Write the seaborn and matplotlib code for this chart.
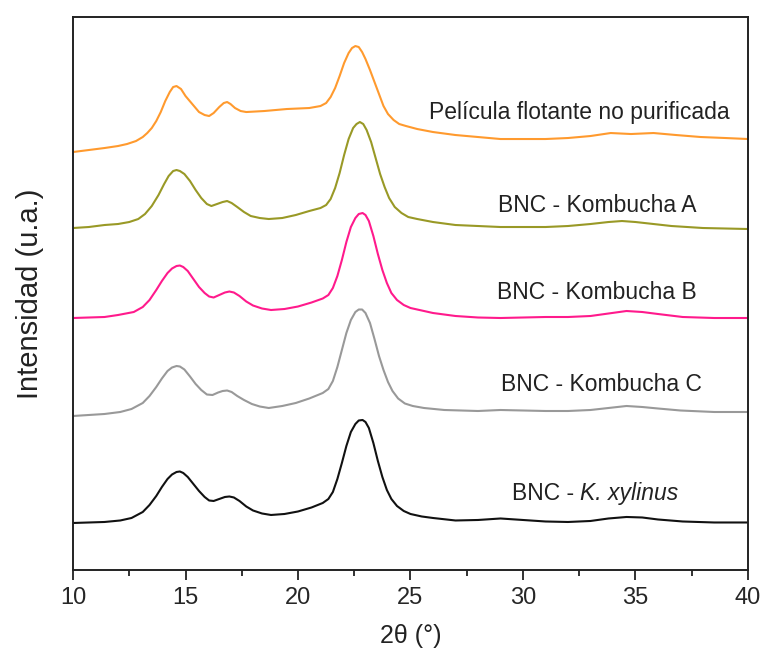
import numpy as np
import pandas as pd
import matplotlib
matplotlib.use("Agg")
import matplotlib.pyplot as plt
from matplotlib.ticker import MultipleLocator
import seaborn as sns

# XRD patterns (stacked, arbitrary intensity units)
tt_pelicula = [10, 10.7, 11.4, 12.0, 12.4, 12.8, 13.1, 13.3, 13.5, 13.7, 13.9, 14.1, 14.3,
               14.45, 14.6, 14.8, 15.0, 15.3, 15.6, 15.85, 16.05, 16.25, 16.5, 16.7, 16.85,
               17.0, 17.2, 17.45, 17.7, 18.5, 19.5, 20.5, 21.0, 21.25, 21.45, 21.65, 21.85,
               22.05, 22.25, 22.4, 22.55, 22.7, 22.85, 23.0, 23.2, 23.4, 23.6, 23.8, 24.0,
               24.25, 24.5, 24.8, 25.3, 26.0, 27.0, 28.0, 29.0, 30.0, 31.0, 32.0, 33.0, 33.9,
               34.8, 35.8, 36.8, 37.9, 39.0, 40.0]
int_pelicula = [418, 420, 422, 424, 426, 429, 433, 437, 442, 449, 458, 469, 478,
                483, 484, 481, 474, 466, 458, 455, 454, 457, 463, 467, 468,
                466, 462, 459, 458, 459, 461, 462, 464, 467, 473, 482, 494,
                507, 517, 522, 524, 523, 518, 511, 500, 488, 476, 464, 456,
                450, 446, 444, 441, 438, 435, 433, 431, 431, 431, 432, 434, 437,
                436, 437, 435, 433, 432, 431]

tt_komb_a = [10, 10.7, 11.4, 12.0, 12.5, 12.9, 13.2, 13.5, 13.8, 14.05, 14.25, 14.45, 14.6,
             14.75, 14.95, 15.2, 15.45, 15.7, 15.95, 16.15, 16.4, 16.65, 16.85, 17.05, 17.3,
             17.6, 17.9, 18.3, 18.7, 19.3, 19.9, 20.5, 21.0, 21.25, 21.45, 21.65, 21.85,
             22.05, 22.25, 22.45, 22.6, 22.75, 22.9, 23.05, 23.25, 23.45, 23.65, 23.85,
             24.05, 24.3, 24.6, 24.9, 25.3, 26.0, 27.0, 28.0, 29.0, 30.0, 31.0, 32.0, 33.0,
             33.8, 34.4, 35.0, 35.8, 36.6, 38.0, 40.0]
int_komb_a = [342, 343, 345, 346, 348, 351, 356, 364, 375, 386, 394, 399, 400,
              399, 396, 389, 380, 372, 366, 364, 366, 368, 369, 367, 363,
              358, 354, 352, 351, 352, 355, 359, 362, 365, 371, 382, 397,
              415, 431, 442, 446, 448, 446, 440, 428, 412, 396, 383,
              372, 363, 357, 353, 351, 348, 345, 344, 343, 343, 343, 344, 346,
              348, 349, 348, 346, 344, 342, 341]

tt_komb_b = [10, 10.7, 11.4, 12.0, 12.7, 13.1, 13.4, 13.7, 13.95, 14.2, 14.4, 14.6, 14.75,
             14.9, 15.1, 15.35, 15.6, 15.85, 16.05, 16.25, 16.5, 16.75, 16.95, 17.15, 17.4,
             17.7, 18.0, 18.4, 18.8, 19.4, 20.0, 20.6, 21.1, 21.35, 21.55, 21.75, 21.95,
             22.15, 22.35, 22.55, 22.7, 22.87, 23.0, 23.15, 23.35, 23.55, 23.75, 23.95,
             24.15, 24.4, 24.7, 25.0, 25.5, 26.0, 27.0, 28.0, 29.0, 30.0, 31.0, 32.0, 33.0,
             33.8, 34.6, 35.3, 36.0, 37.1, 38.5, 40.0]
int_komb_b = [252, 252.5, 253, 255, 258, 263, 270, 280, 289, 297, 301.5, 304, 304.5,
              303, 299, 291, 283, 277, 273.5, 272.5, 275, 277.5, 278.5, 277.5, 274,
              268.5, 264.5, 261.5, 260, 261, 263.5, 267.5, 271.5, 275, 282, 294, 310,
              328, 343, 352, 356, 357, 355, 349, 334, 316, 300, 287,
              277, 270, 265, 262, 259.5, 257, 254, 252.5, 252, 252.5, 253, 253, 254,
              256.5, 259, 258, 256, 253, 252, 252]

tt_komb_c = [10, 10.7, 11.4, 12.1, 12.6, 13.1, 13.4, 13.7, 13.95, 14.2, 14.4, 14.6, 14.75,
             14.95, 15.2, 15.45, 15.7, 15.95, 16.2, 16.45, 16.65, 16.85, 17.05, 17.3, 17.6,
             17.95, 18.3, 18.7, 19.3, 19.9, 20.5, 21.1, 21.35, 21.55, 21.75, 21.95, 22.15,
             22.35, 22.55, 22.7, 22.85, 23.0, 23.2, 23.4, 23.6, 23.8, 24.0, 24.2, 24.45,
             24.75, 25.1, 25.6, 26.5, 28.0, 29.0, 30.0, 31.0, 32.0, 33.0, 33.8, 34.6, 35.3,
             36.0, 37.0, 38.5, 40.0]
int_komb_c = [154, 155, 156, 158, 161, 167, 174, 183, 191.5, 199, 202.5, 204, 203.5,
              200.5, 193.5, 186, 180, 175.5, 175, 177.5, 179, 179.5, 178, 174, 170,
              166, 163.5, 162, 164, 167, 171.5, 177, 181, 189, 203, 220, 237,
              250, 258, 260.5, 260.5, 257, 247, 231, 214, 200, 188, 179, 171.5,
              166.5, 164, 162, 160, 159, 160, 159.5, 159, 159, 160, 162, 164, 163,
              161.5, 159.5, 158, 158]

tt_xylinus = [10, 10.7, 11.4, 12.1, 12.6, 13.1, 13.4, 13.7, 13.95, 14.2, 14.4, 14.6, 14.75,
              14.9, 15.1, 15.35, 15.6, 15.85, 16.05, 16.25, 16.5, 16.75, 16.95, 17.15, 17.4,
              17.7, 18.0, 18.4, 18.8, 19.4, 20.0, 20.6, 21.1, 21.35, 21.55, 21.75, 21.95,
              22.15, 22.35, 22.55, 22.7, 22.87, 23.0, 23.15, 23.35, 23.55, 23.75, 23.95,
              24.15, 24.4, 24.7, 25.0, 25.5, 26.0, 27.0, 28.0, 29.0, 30.0, 31.0, 32.0, 33.0,
              33.8, 34.6, 35.3, 36.0, 37.1, 38.5, 40.0]
int_xylinus = [47, 47.5, 48, 49.5, 52, 58, 65, 74, 83, 91, 95.5, 98, 98.5,
               97, 93, 86, 79, 73, 69.5, 69, 71, 73, 73.5, 72.5, 69,
               63.5, 59.5, 56.5, 55, 56, 58.5, 62.5, 67, 71, 78, 91, 107,
               124, 138, 146, 149.5, 150, 148, 142, 127, 109, 93, 80,
               71, 64, 59, 56, 53.5, 52, 49.5, 50, 51.5, 50, 48.5, 48, 49,
               51.5, 53, 52.5, 50.5, 48.5, 47.5, 47.5]

muestras = ["Película flotante no purificada", "BNC - Kombucha A", "BNC - Kombucha B",
            "BNC - Kombucha C", "BNC - K. xylinus"]
colores = ["#FF9A2E", "#999926", "#FF1A8C", "#999999", "#111111"]

series = [(tt_pelicula, int_pelicula), (tt_komb_a, int_komb_a), (tt_komb_b, int_komb_b),
          (tt_komb_c, int_komb_c), (tt_xylinus, int_xylinus)]
df = pd.concat(
    [pd.DataFrame({"2theta": tt, "intensidad": it, "muestra": m})
     for (tt, it), m in zip(series, muestras)],
    ignore_index=True,
)

sns.set_theme(style="ticks")
plt.rcParams["font.family"] = ["Liberation Sans", "DejaVu Sans"]

fig = plt.figure(figsize=(7.63, 6.55), dpi=100)
ax = fig.add_axes([0.0957, 0.1298, 0.8846, 0.8442])

sns.lineplot(data=df, x="2theta", y="intensidad", hue="muestra", hue_order=muestras,
             palette=dict(zip(muestras, colores)), sort=False, estimator=None,
             legend=False, linewidth=1.5, ax=ax)
for ln in ax.get_lines():
    ln.set_solid_joinstyle("round")
    ln.set_solid_capstyle("round")

ax.set_xlim(10, 40)
ax.set_ylim(0, 553)
ax.set_yticks([])
ax.xaxis.set_major_locator(MultipleLocator(5))
ax.xaxis.set_minor_locator(MultipleLocator(2.5))
ax.tick_params(axis="x", which="major", direction="out", length=7, width=1.3,
               labelsize=17, color="#222222", pad=5)
ax.tick_params(axis="x", which="minor", direction="out", length=4, width=1.3,
               color="#222222")
for s in ax.spines.values():
    s.set_visible(True)
    s.set_linewidth(1.4)
    s.set_color("#222222")

ax.set_xlabel("2θ (°)", fontsize=18, labelpad=11, color="#222222")
ax.set_ylabel("Intensidad (u.a.)", fontsize=21, labelpad=21, color="#222222")

etiquetas = [
    (32.5, 458, "Película flotante no purificada"),
    (33.3, 365, "BNC - Kombucha A"),
    (33.3, 278, "BNC - Kombucha B"),
    (33.5, 185, "BNC - Kombucha C"),
]
for x, y, t in etiquetas:
    ax.text(x, y, t, ha="center", va="center", fontsize=16.5, color="#222222")

# "BNC - K. xylinus" with the species name in italics
ax.text(32.27, 76, "BNC -", ha="right", va="center", fontsize=16.5, color="#222222")
ax.annotate("K. xylinus", xy=(32.27, 76), xytext=(4.5, 0), textcoords="offset points",
            ha="left", va="center", fontsize=16.5, fontstyle="italic", color="#222222")

fig.savefig("out.png", dpi=100)
